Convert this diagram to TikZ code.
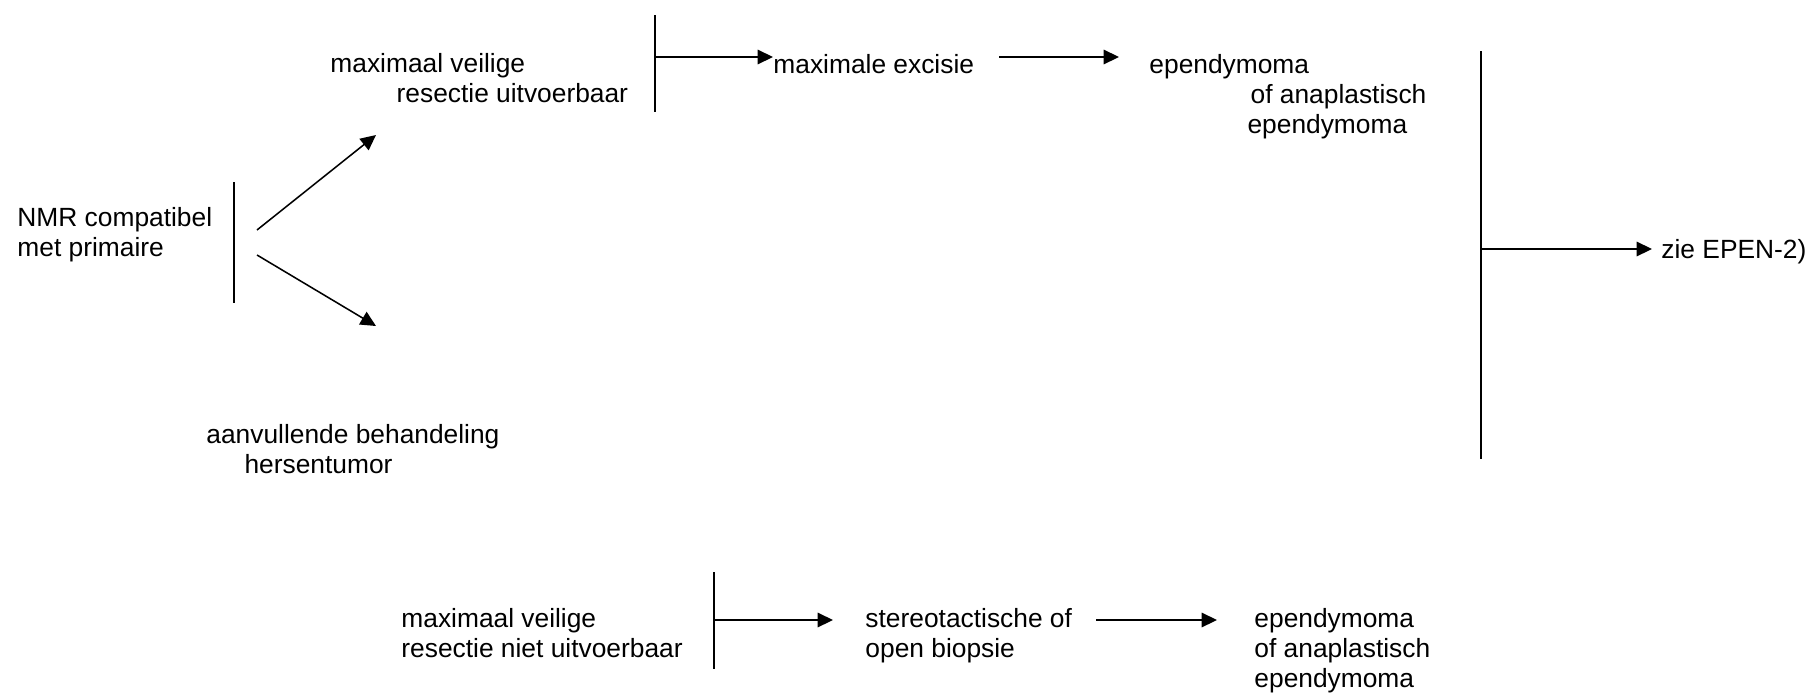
\documentclass[tikz,border=0pt]{standalone}
\usepackage{fontspec}
\setmainfont{Liberation Sans}
\usetikzlibrary{arrows.meta}

\begin{document}
\begin{tikzpicture}[x=0.016cm,y=-0.016cm,
  lbl/.style={anchor=north west,inner sep=0pt,align=left,font=\fontsize{12}{13.65}\selectfont},
  arr/.style={line width=0.7pt,-{Triangle[length=7pt,width=6.6pt]}},
  bar/.style={line width=0.8pt}]
\useasboundingbox (0,0) rectangle (1814,692);

% start and split
\node[lbl] (nmr) at (17,207) {NMR compatibel\\met primaire};
\coordinate (splitT) at (234,182);
\coordinate (splitB) at (234,303);
\draw[bar] (splitT) -- (splitB);
\coordinate (upS) at (257,230);
\coordinate (upE) at (376,135);
\coordinate (dnS) at (257,255);
\coordinate (dnE) at (376,326);
\draw[arr] (upS) -- (upE);
\draw[arr] (dnS) -- (dnE);
\node[lbl] (aanv) at (206,424) {aanvullende behandeling\\\hspace*{0.61cm}hersentumor};

% resectie uitvoerbaar
\node[lbl] (resU) at (330,53) {maximaal veilige\\\hspace*{1.06cm}resectie uitvoerbaar};
\coordinate (barUT) at (655,15);
\coordinate (barUB) at (655,112);
\coordinate (barUM) at (655,57);
\draw[bar] (barUT) -- (barUB);
\node[lbl] (exc) at (773,54) {maximale excisie};
\draw[arr] (barUM) -- (exc.west |- barUM);
\coordinate (excS) at (999,57);
\coordinate (excE) at (1119,57);
\draw[arr] (excS) -- (excE);
\node[lbl] (epU) at (1149,54) {ependymoma\\\hspace*{1.62cm}of anaplastisch\\\hspace*{1.57cm}ependymoma};

% samenkomst
\coordinate (barRT) at (1481,51);
\coordinate (barRB) at (1481,459);
\coordinate (barRM) at (1481,249);
\draw[bar] (barRT) -- (barRB);
\node[lbl] (epen) at (1661,239) {zie EPEN-2)};
\coordinate (epenE) at (1652,249);
\draw[arr] (barRM) -- (epenE);

% resectie niet uitvoerbaar
\node[lbl] (resN) at (401,608) {maximaal veilige\\resectie niet uitvoerbaar};
\coordinate (barNT) at (714,572);
\coordinate (barNB) at (714,669);
\coordinate (barNM) at (714,620);
\draw[bar] (barNT) -- (barNB);
\coordinate (bioE) at (833,620);
\draw[arr] (barNM) -- (bioE);
\node[lbl] (bio) at (865,608) {stereotactische of\\open biopsie};
\coordinate (bioS) at (1096,620);
\coordinate (epNE) at (1217,620);
\draw[arr] (bioS) -- (epNE);
\node[lbl] (epN) at (1254,608) {ependymoma\\of anaplastisch\\ependymoma};
\end{tikzpicture}
\end{document}
